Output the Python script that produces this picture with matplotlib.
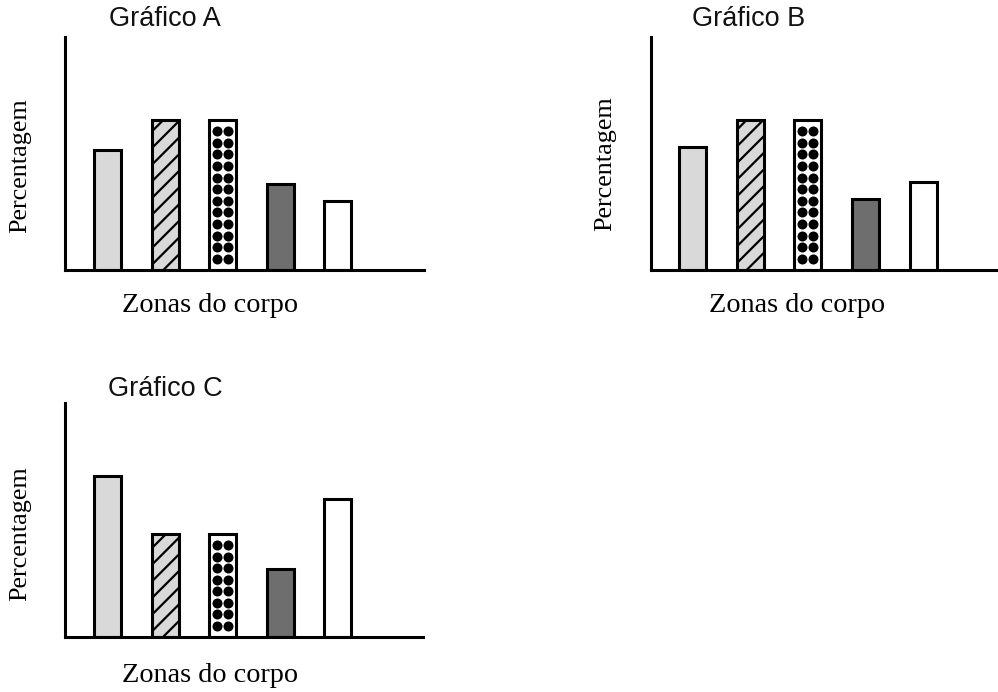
import numpy as np
import matplotlib
matplotlib.use("Agg")
import matplotlib.pyplot as plt

# ---- data (bar heights, arbitrary percentage units) ----
categories = ["Zona 1", "Zona 2", "Zona 3", "Zona 4", "Zona 5"]
values_a = [120, 150, 150, 86, 69]
values_b = [123, 150, 150, 71, 88]
values_c = [161, 103, 103, 68, 138]
titles = ["Gráfico A", "Gráfico B", "Gráfico C"]
ylabel = "Percentagem"
xlabel = "Zonas do corpo"

W, H = 998, 692
plt.rcParams["hatch.linewidth"] = 1.6
fig = plt.figure(figsize=(W / 100, H / 100), dpi=100)

def add_ax(left, right, top, bottom):
    return fig.add_axes([left / W, 1 - bottom / H, (right - left) / W, (bottom - top) / H])

faces = ["#d9d9d9", "#d9d9d9", "white", "#6e6e6e", "white"]
hatches = [None, "//", None, None, None]

panels = [
    # values, axis box (l, r, t, b), xlim, title pos, ylabel pos, xlabel pos
    (values_a, (65, 424, 37, 270), (-0.738, 5.495), (165, 19), (20, 166), (210, 306)),
    (values_b, (651, 998, 37, 270), (-0.72, 5.30), (749, 19), (605, 164), (797, 306)),
    (values_c, (65, 423, 403, 637), (-0.738, 5.477), (165, 389), (20, 534), (210, 675)),
]

x = np.arange(len(categories))
for (vals, box, xl, tpos, ypos, xpos), title in zip(panels, titles):
    ax = add_ax(*box)
    bars = ax.bar(x, vals, width=0.47, color=faces, edgecolor="black", linewidth=2.2, zorder=2)
    for b, h in zip(bars, hatches):
        if h:
            b.set_hatch(h)
    # dotted pattern for third bar
    h3 = vals[2]
    n = int(round((h3 - 22) / 11.5)) + 1
    ys = np.linspace(11, h3 - 11, n)
    for dx in (-0.093, 0.093):
        ax.scatter(np.full(n, x[2] + dx), ys, s=52, color="black", zorder=3, linewidths=0)
    ax.set_xlim(*xl)
    ax.set_ylim(0, box[3] - box[2])
    ax.set_xticks([])
    ax.set_yticks([])
    for s in ["top", "right"]:
        ax.spines[s].set_visible(False)
    for s in ["left", "bottom"]:
        ax.spines[s].set_linewidth(2.2)
        ax.spines[s].set_zorder(4)
    fig.text(tpos[0] / W, 1 - tpos[1] / H, title, ha="center", va="center",
             fontsize=19.5, family="Liberation Sans", color="#111111")
    fig.text(ypos[0] / W, 1 - ypos[1] / H, ylabel, ha="center", va="center",
             rotation=90, fontsize=18.8, family="Liberation Serif", color="black")
    fig.text(xpos[0] / W, 1 - xpos[1] / H, xlabel, ha="center", va="center",
             fontsize=20.3, family="Liberation Serif", color="black")

fig.savefig("out.png", dpi=100)
